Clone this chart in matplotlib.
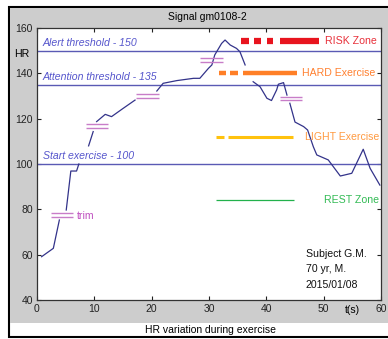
import numpy as np
import matplotlib.pyplot as plt
from matplotlib.patches import Rectangle

plt.rcParams['font.family'] = ['Liberation Sans', 'DejaVu Sans']

# heart rate curve (nan = gap in the trace)
t_vals = [0.8, 2.85, 3.9, np.nan,
          5.1, 5.9, 6.9, 7.3, np.nan,
          9.0, 9.8, np.nan,
          10.4, 11.9, 13.0, 15.0, 17.1, np.nan,
          20.9, 22.0, 24.4, 27.3, 28.4, 29.9, 30.5, 31.0, 32.2, 32.8, 33.7, 34.8, 35.4, 36.3, np.nan,
          37.7, 38.9, 40.1, 40.9, 41.8, 42.1, 43.0, 43.6, np.nan,
          44.1, 45.0, 46.5, 47.2, 48.2, 48.8, 50.8, 52.9, 54.9, 56.9, 58.1, 59.8]
hr_vals = [59.1, 62.8, 75.3, np.nan,
           79.7, 96.9, 96.9, 100.0, np.nan,
           108.0, 114.3, np.nan,
           118.7, 121.9, 120.9, 124.5, 128.2, np.nan,
           132.2, 135.6, 136.8, 137.8, 137.8, 142.2, 143.7, 148.1, 153.2, 154.7, 152.5, 151.0, 149.5, 143.7, np.nan,
           136.3, 134.1, 129.0, 128.0, 132.7, 135.2, 135.9, 130.4, np.nan,
           126.8, 118.5, 116.5, 115.0, 107.6, 104.0, 101.8, 94.7, 95.9, 106.5, 98.1, 90.7]

# thresholds
thr_values = [150, 135, 100]
thr_labels = ['Alert threshold - 150', 'Attention threshold - 135', 'Start exercise - 100']

# trim markers: (t_start, t_end, hr)
trim_marks = [(2.4, 6.3, 77.5), (8.5, 12.4, 116.7), (17.3, 21.2, 130.0),
              (28.4, 32.4, 145.8), (42.4, 46.2, 129.0)]

# zones
zone_names = ['RISK Zone', 'HARD Exercise', 'LIGHT Exercise', 'REST Zone']
zone_levels = [154.1, 140.3, 111.8, 84.0]
zone_segments = [[(35.6, 36.9), (37.9, 39.1), (40.1, 41.1), (42.3, 49.2)],
                 [(31.7, 32.9), (33.7, 35.1), (36.0, 45.3)],
                 [(31.3, 32.7), (33.3, 44.6)],
                 [(31.3, 44.8)]]
zone_colors = ['#e8141e', '#ff7f27', '#ffc20e', '#22b14c']
zone_text_colors = ['#e8303a', '#ff8030', '#ff9a40', '#33bb55']
zone_widths = [4.5, 3.2, 2.2, 0.9]
zone_text_x = [50.2, 46.2, 46.7, 50.1]

W, H = 388, 339
fig = plt.figure(figsize=(W / 100, H / 100), dpi=100)
fig.patch.set_facecolor('white')

def fx(x):
    return x / W

def fy(y):
    return 1 - y / H

# window frame
fig.add_artist(Rectangle((fx(9), fy(337)), fx(400) - fx(9), fy(7) - fy(337),
                         transform=fig.transFigure, facecolor='white',
                         edgecolor='black', linewidth=1.5, zorder=-2))
fig.add_artist(Rectangle((fx(10), fy(323)), fx(400) - fx(10), fy(8) - fy(323),
                         transform=fig.transFigure, facecolor='#cdcdcd',
                         edgecolor='none', zorder=-1))

ax = fig.add_axes([fx(37), fy(300), fx(381) - fx(37), fy(28) - fy(300)])
ax.set_facecolor('white')
ax.set_xlim(0, 60)
ax.set_ylim(40, 160)
ax.set_xticks(range(0, 61, 10))
ax.set_yticks(range(40, 161, 20))
ax.tick_params(direction='in', length=3, width=0.8, labelsize=7.5,
               top=True, right=True, pad=3, colors='#222222')
for s in ax.spines.values():
    s.set_color('#333333')
    s.set_linewidth(0.9)

for v, lab in zip(thr_values, thr_labels):
    ax.axhline(v, color='#5a5ab4', lw=1.0)
    ax.text(1.0, v + 1.3, lab, color='#5555cc', fontsize=7.6, style='italic',
            va='bottom', ha='left')

ax.plot(t_vals, hr_vals, color='#33338a', lw=0.9)

for t0, t1, h in trim_marks:
    ax.hlines([h + 0.75, h - 0.75], t0, t1, colors='#c87dc8', lw=1.0)
ax.text(6.9, 77.0, 'trim', color='#c050c0', fontsize=7.6, va='center')

for name, lvl, segs, c, tc, w, tx in zip(zone_names, zone_levels, zone_segments,
                                         zone_colors, zone_text_colors,
                                         zone_widths, zone_text_x):
    for a, b in segs:
        ax.plot([a, b], [lvl, lvl], color=c, lw=w, solid_capstyle='butt')
    ax.text(tx, lvl, name, color=tc, fontsize=7.6, va='center')

ax.text(46.9, 60.3, 'Subject G.M.', fontsize=7.6, va='center', color='#111111')
ax.text(46.9, 53.7, '70 yr, M.', fontsize=7.6, va='center', color='#111111')
ax.text(46.9, 46.6, '2015/01/08', fontsize=7.6, va='center', color='#111111')

ax.text(-2.6, 148.5, 'HR', fontsize=7.6, ha='center', va='center', clip_on=False)
ax.text(55.0, 35.8, 't(s)', fontsize=7.6, ha='center', va='center', clip_on=False)

fig.text(fx(207), fy(16.5), 'Signal gm0108-2', fontsize=7.5, ha='center', va='center')
fig.text(fx(211), fy(330), 'HR variation during exercise', fontsize=7.5,
         ha='center', va='center')

fig.savefig('out.png', dpi=100)
